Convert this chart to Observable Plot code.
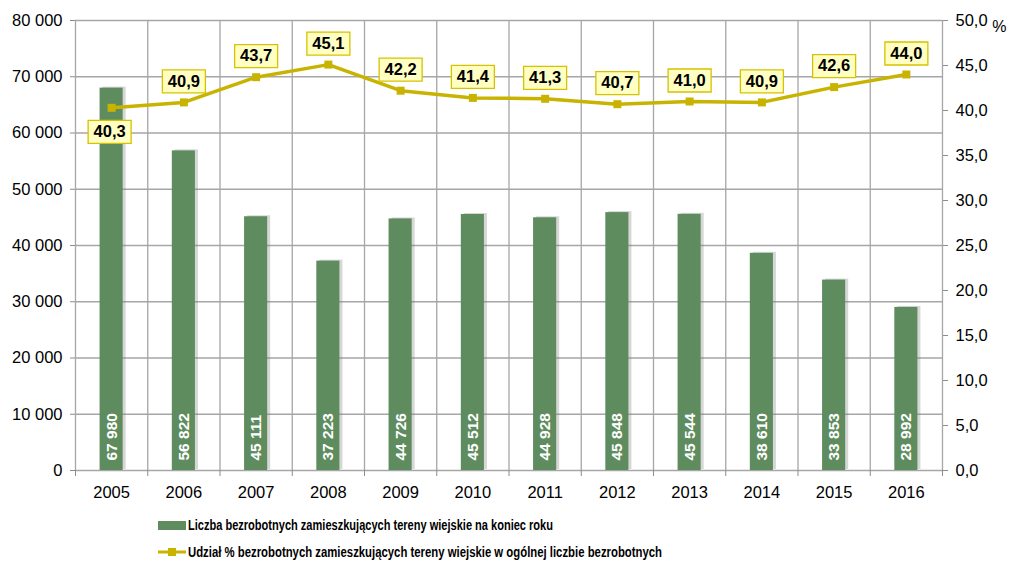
<!DOCTYPE html>
<html><head><meta charset="utf-8">
<script src="https://cdn.jsdelivr.net/npm/d3@7"></script>
<script src="https://cdn.jsdelivr.net/npm/@observablehq/plot@0.6"></script>
<style>
body{margin:0;background:#fff;font-family:"Liberation Sans",Arial,sans-serif;}
#wrap{position:relative;width:1013px;height:564px;}
.leg{position:absolute;left:158px;font-weight:bold;font-size:14.5px;color:#000;white-space:nowrap;display:flex;align-items:center;}
.lt{display:inline-block;transform-origin:left center;}
</style></head><body>
<div id="wrap"><div id="chart"></div>
<div class="leg" style="top:517px"><svg width="30" height="14"><rect x="0" y="3" width="28" height="9" fill="#5f8c5f"/></svg><span class="lt" id="l1" data-w="365">Liczba bezrobotnych zamieszkujących tereny wiejskie na koniec roku</span></div>
<div class="leg" style="top:544px"><svg width="30" height="14"><line x1="0" x2="28" y1="7" y2="7" stroke="#c8b400" stroke-width="3"/><rect x="10" y="3" width="8" height="8" fill="#c8b400"/></svg><span class="lt" id="l2" data-w="474">Udział % bezrobotnych zamieszkujących tereny wiejskie w ogólnej liczbie bezrobotnych</span></div>
</div>
<script>
const years = [2005,2006,2007,2008,2009,2010,2011,2012,2013,2014,2015,2016];
const counts = [67980,56822,45111,37223,44726,45512,44928,45848,45544,38610,33853,28992];
const shares = [40.3,40.9,43.7,45.1,42.2,41.4,41.3,40.7,41.0,40.9,42.6,44.0];
const leftTicks = [0,10000,20000,30000,40000,50000,60000,70000,80000];
const rightTicks = [0,5,10,15,20,25,30,35,40,45,50];

const K = 80000/50;
const data = years.map((y,i)=>({year:y, count:counts[i], share:shares[i], sy:shares[i]*K}));
const bounds = d3.range(2004.5, 2017, 1);
const fmtCount = d => d===0 ? "0" : d3.format(",")(d).replace(/,/g," ");
const fmtPct = v => v.toFixed(1).replace(".",",");
const boxSym = {draw(ctx){ ctx.moveTo(-21.5,-11.5); ctx.lineTo(21.5,-11.5); ctx.lineTo(21.5,11.5); ctx.lineTo(-21.5,11.5); ctx.closePath(); }};
const sqSym = {draw(ctx){ ctx.moveTo(-4,-4); ctx.lineTo(4,-4); ctx.lineTo(4,4); ctx.lineTo(-4,4); ctx.closePath(); }};
const half = 0.16;

const chart = Plot.plot({
  width:1013, height:505,
  marginLeft:75, marginRight:71, marginTop:20, marginBottom:35,
  style:{fontFamily:"'Liberation Sans',Arial,sans-serif", fontSize:"16px", color:"#000", background:"#fff"},
  x:{domain:[2004.5,2016.5], axis:null, label:null},
  y:{domain:[0,80000], axis:null, label:null},
  marks:[
    Plot.ruleY(leftTicks, {stroke:"#a6a6a6", strokeWidth:1.3}),
    Plot.ruleX(bounds, {y1:0, y2:80000, stroke:"#a6a6a6", strokeWidth:1.3}),
    Plot.axisY(leftTicks, {anchor:"left", label:null, tickSize:5, tickPadding:8, tickFormat:fmtCount, stroke:"#8c8c8c", fontSize:16.5}),
    Plot.axisY(rightTicks.map(v=>v*K), {anchor:"right", label:null, tickSize:5, tickPadding:8, tickFormat:v=>fmtPct(v/K), stroke:"#8c8c8c", fontSize:16.5}),
    Plot.axisX(bounds, {anchor:"bottom", label:null, tickSize:6, tickFormat:()=>"", stroke:"#8c8c8c"}),
    Plot.axisX(years, {anchor:"bottom", label:null, tickSize:0, tickPadding:16, tickFormat:d=>String(d), fontSize:16.5}),
    Plot.rectY(data, {x1:d=>d.year-half, x2:d=>d.year+half, y1:0, y2:"count", fill:"#7a7a7a", fillOpacity:0.3, dx:3, dy:-1}),
    Plot.rectY(data, {x1:d=>d.year-half, x2:d=>d.year+half, y1:0, y2:"count", fill:"#5f8c5f"}),
    Plot.text(data, {x:"year", y:0, text:d=>fmtCount(d.count), rotate:-90, textAnchor:"start", dy:-10, fill:"#fff", fontWeight:"bold", fontSize:15.5}),
    Plot.line(data, {x:"year", y:"sy", stroke:"#c8b400", strokeWidth:3.5}),
    Plot.dot(data, {x:"year", y:"sy", symbol:sqSym, r:4, fill:"#c8b400", stroke:"none"}),
    Plot.dot(data.filter(d=>d.year!==2005), {x:"year", y:"sy", symbol:boxSym, r:4, fill:"#ffffc4", stroke:"#d6c200", strokeWidth:1.3, dy:-21}),
    Plot.dot(data.filter(d=>d.year===2005), {x:"year", y:"sy", symbol:boxSym, r:4, fill:"#ffffc4", stroke:"#d6c200", strokeWidth:1.3, dy:24, dx:-2}),
    Plot.text(data.filter(d=>d.year!==2005), {x:"year", y:"sy", text:d=>fmtPct(d.share), dy:-21, fontWeight:"bold", fontSize:16.5, fill:"#000"}),
    Plot.text(data.filter(d=>d.year===2005), {x:"year", y:"sy", text:d=>fmtPct(d.share), dy:24, dx:-2, fontWeight:"bold", fontSize:16.5, fill:"#000"}),
    Plot.text(["%"], {frameAnchor:"top-right", dx:64, text:d=>d, fontSize:16, fill:"#000"})
  ]
});
document.getElementById("chart").appendChild(chart);
for (const id of ["l1","l2"]) {
  const el = document.getElementById(id);
  const w = el.getBoundingClientRect().width;
  el.style.transform = `scaleX(${(+el.dataset.w)/w})`;
}
</script>
</body></html>
